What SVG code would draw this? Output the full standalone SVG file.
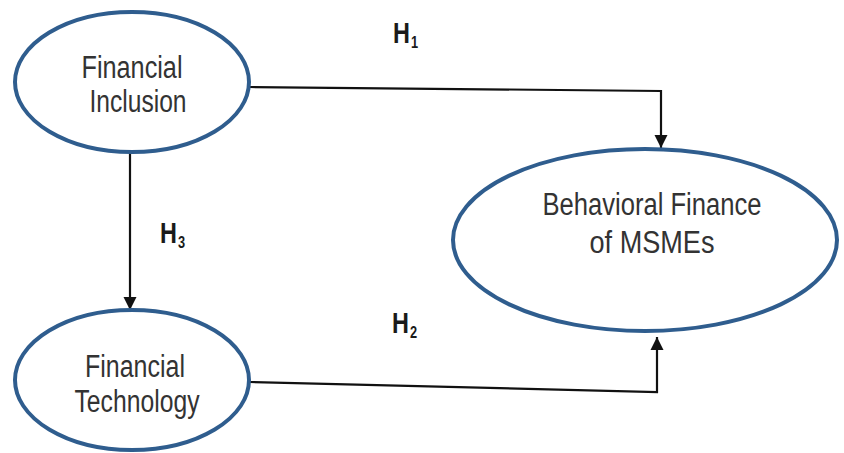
<svg xmlns="http://www.w3.org/2000/svg" width="844" height="453" viewBox="0 0 844 453">
  <defs>
    <marker id="arrow" markerUnits="userSpaceOnUse" markerWidth="14" markerHeight="14" viewBox="0 0 14 14" refX="13" refY="7" orient="auto">
      <path d="M0,0.5 L13,7 L0,13.5 z" fill="#111"/>
    </marker>
  </defs>
  <style>
    .node { fill: #ffffff; stroke: #2f5d8e; stroke-width: 4; }
    .label { font-family: "Liberation Sans", Arial, sans-serif; font-size: 31px; fill: #333333; text-anchor: middle; }
    .hyp { font-family: "Liberation Sans", Arial, sans-serif; font-size: 30px; font-weight: bold; fill: #1a1a1a; }
    .sub { font-family: "Liberation Sans", Arial, sans-serif; font-size: 16px; font-weight: bold; fill: #1a1a1a; }
    .conn { fill: none; stroke: #111; stroke-width: 2.2; marker-end: url(#arrow); }
  </style>
  <rect width="844" height="453" fill="#ffffff"/>

  <g id="connectors">
    <path class="conn" d="M250,87 L661,91 L661,148"/>
    <path class="conn" d="M130,153 L130,310"/>
    <path class="conn" d="M250,382 L657,392 L657,337"/>
  </g>

  <g id="financial-inclusion">
    <ellipse class="node" cx="132" cy="82" rx="117" ry="70"/>
    <text class="label" x="132" y="78" textLength="101" lengthAdjust="spacingAndGlyphs">Financial</text>
    <text class="label" x="138" y="112" textLength="97" lengthAdjust="spacingAndGlyphs">Inclusion</text>
  </g>

  <g id="financial-technology">
    <ellipse class="node" cx="132" cy="380" rx="117" ry="70"/>
    <text class="label" x="135" y="377" textLength="100" lengthAdjust="spacingAndGlyphs">Financial</text>
    <text class="label" x="137" y="412" textLength="125" lengthAdjust="spacingAndGlyphs">Technology</text>
  </g>

  <g id="behavioral-finance">
    <ellipse class="node" cx="645" cy="240" rx="192" ry="91"/>
    <text class="label" x="652" y="215" textLength="219" lengthAdjust="spacingAndGlyphs">Behavioral Finance</text>
    <text class="label" x="652" y="253" textLength="125" lengthAdjust="spacingAndGlyphs">of MSMEs</text>
  </g>

  <g id="labels">
    <text class="hyp" transform="translate(393,43) scale(0.78,1)">H</text>
    <text class="sub" transform="translate(411,48) scale(0.8,1)">1</text>
    <text class="hyp" transform="translate(160,243) scale(0.78,1)">H</text>
    <text class="sub" transform="translate(178,248) scale(0.8,1)">3</text>
    <text class="hyp" transform="translate(392,333) scale(0.78,1)">H</text>
    <text class="sub" transform="translate(410,338) scale(0.8,1)">2</text>
  </g>
</svg>
